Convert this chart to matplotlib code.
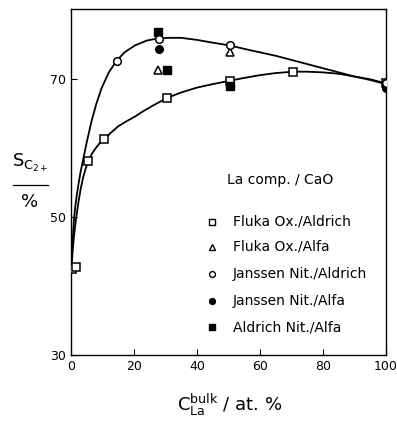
import matplotlib
matplotlib.use('Agg')
import matplotlib.pyplot as plt

# datos
fluka_ox_aldrich_x = [0.2, 1.6, 5.5, 10.5, 30.5, 50.5, 70.4, 100]
fluka_ox_aldrich_y = [42.5, 42.8, 58.1, 61.2, 67.2, 69.6, 71.0, 69.4]
fluka_ox_alfa_x = [27.5, 50.6]
fluka_ox_alfa_y = [71.3, 73.9]
janssen_aldrich_x = [14.5, 27.8, 50.4, 100]
janssen_aldrich_y = [72.6, 75.8, 74.8, 69.3]
janssen_alfa_x = [27.8, 100]
janssen_alfa_y = [74.3, 68.6]
aldrich_alfa_x = [27.5, 30.4, 50.6]
aldrich_alfa_y = [76.8, 71.2, 69.0]

# curvas de tendencia (trazadas a mano en el original)
upper_x = [0.2, 0.5, 0.9, 1.3, 1.8, 2.3, 3.0, 3.9, 5.0, 6.5, 8.0, 9.7, 12.0, 14.5, 17.0,
           20.3, 24.0, 27.5, 31, 35, 40, 45, 50.4, 55, 60, 65, 70, 75, 80, 85, 90, 95, 100]
upper_y = [42.5, 46.5, 49.3, 51.3, 53.0, 54.5, 56.4, 58.4, 60.8, 63.8, 66.3, 68.6, 70.9, 72.6, 73.8,
           74.8, 75.5, 75.8, 75.9, 75.9, 75.6, 75.2, 74.8, 74.3, 73.8, 73.3, 72.7, 72.1, 71.5, 70.9, 70.3, 69.8, 69.2]
lower_x = [0.2, 0.5, 0.9, 1.3, 1.9, 2.5, 3.1, 3.8, 4.6, 5.5, 6.6, 7.8, 9.0, 10.5, 12.5, 15, 17.5,
           20.3, 23, 26, 30.5, 35, 40, 45, 50.5, 55, 60, 65, 70.4, 75, 80, 85, 90, 95, 100]
lower_y = [42.5, 45.0, 47.0, 48.6, 50.7, 52.5, 54.1, 55.6, 56.9, 58.1, 59.1, 59.9, 60.6, 61.2, 62.1, 63.1, 63.8,
           64.5, 65.3, 66.1, 67.2, 68.0, 68.7, 69.2, 69.7, 70.1, 70.5, 70.8, 71.0, 71.0, 70.9, 70.7, 70.3, 69.9, 69.3]

legend_labels = ['Fluka Ox./Aldrich', 'Fluka Ox./Alfa', 'Janssen Nit./Aldrich',
                 'Janssen Nit./Alfa', 'Aldrich Nit./Alfa']

plt.rcParams['font.family'] = 'DejaVu Sans'

fig = plt.figure(figsize=(3.97, 4.23), dpi=100)
ax = fig.add_axes([71 / 397, 1 - 355 / 423, 315 / 397, 345.5 / 423])

# curvas
ax.plot(upper_x, upper_y, color='black', lw=1.3, zorder=2, solid_joinstyle='round')
ax.plot(lower_x, lower_y, color='black', lw=1.3, zorder=2, solid_joinstyle='round')

ms = 5.5
ax.plot(fluka_ox_aldrich_x, fluka_ox_aldrich_y, 's', mfc='white', mec='black', mew=1.1, ms=ms, zorder=3)
ax.plot(fluka_ox_alfa_x, fluka_ox_alfa_y, '^', mfc='white', mec='black', mew=1.1, ms=ms + 0.5, zorder=3)
ax.plot(janssen_aldrich_x, janssen_aldrich_y, 'o', mfc='white', mec='black', mew=1.1, ms=ms, zorder=4)
ax.plot(janssen_alfa_x, janssen_alfa_y, 'o', mfc='black', mec='black', ms=ms, zorder=3)
ax.plot(aldrich_alfa_x, aldrich_alfa_y, 's', mfc='black', mec='black', ms=ms, zorder=3)

ax.set_xlim(0, 100)
ax.set_ylim(30, 80)
ax.set_xticks([0, 20, 40, 60, 80, 100])
ax.set_yticks([30, 50, 70])
ax.tick_params(direction='in', length=4, labelsize=9, width=0.8)
for s in ax.spines.values():
    s.set_linewidth(1.0)

# leyenda manual
ax.text(0.495, 0.507, 'La comp. / CaO', transform=ax.transAxes, fontsize=10, va='center')
styles = [('s', 'white'), ('^', 'white'), ('o', 'white'), ('o', 'black'), ('s', 'black')]
rows = [0.386, 0.313, 0.234, 0.156, 0.081]
for (m, fc), yy, lab in zip(styles, rows, legend_labels):
    ax.plot([0.448], [yy], m, mfc=fc, mec='black', mew=1.0, ms=4.2, transform=ax.transAxes, clip_on=False)
    ax.text(0.514, yy, lab, transform=ax.transAxes, fontsize=10, va='center')

# etiquetas de los ejes
fig.text(30 / 397, 1 - 163 / 423, r'$\mathregular{S_{C_{2+}}}$', fontsize=13, ha='center', va='center')
fig.add_artist(plt.Line2D([13 / 397, 48 / 397], [1 - 185 / 423, 1 - 185 / 423], color='black', lw=0.9))
fig.text(30 / 397, 1 - 202 / 423, '%', fontsize=13, ha='center', va='center')
fig.text(230 / 397, 1 - 405 / 423, r'$\mathregular{C_{La}^{bulk}}$ / at. %', fontsize=13, ha='center', va='center')

fig.savefig('out.png', dpi=100)
